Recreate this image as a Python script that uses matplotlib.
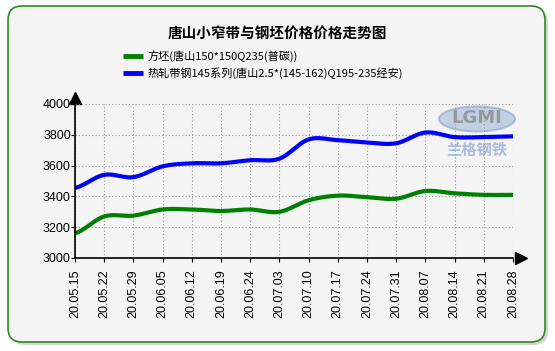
import matplotlib
matplotlib.use("Agg")
import matplotlib.pyplot as plt
from matplotlib.patches import FancyBboxPatch, Ellipse
import numpy as np

dates = ["20.05.15", "20.05.22", "20.05.29", "20.06.05", "20.06.12", "20.06.19",
         "20.06.24", "20.07.03", "20.07.10", "20.07.17", "20.07.24", "20.07.31",
         "20.08.07", "20.08.14", "20.08.21", "20.08.28"]
billet = [3160, 3270, 3275, 3315, 3315, 3305, 3315, 3300, 3375, 3405, 3395, 3385,
          3435, 3420, 3410, 3410]
strip = [3455, 3540, 3525, 3595, 3615, 3615, 3635, 3645, 3770, 3765, 3750, 3745,
         3815, 3785, 3785, 3790]
billet_label = "方坯(唐山150*150Q235(普碳))"
strip_label = "热轧带钢145系列(唐山2.5*(145-162)Q195-235经安)"
title = "唐山小窄带与钢坯价格价格走势图"

CJK = ["Noto Sans CJK SC", "DejaVu Sans"]
LAT = ["Liberation Sans", "Noto Sans CJK SC"]


def smooth(y, n=20):
    # Catmull-Rom curve through the points, only for drawing
    y = np.asarray(y, float)
    p = np.concatenate([[y[0]], y, [y[-1]]])
    xs, ys = [], []
    for i in range(len(y) - 1):
        t = np.linspace(0, 1, n, endpoint=False)
        p0, p1, p2, p3 = p[i], p[i + 1], p[i + 2], p[i + 3]
        seg = 0.5 * (2 * p1 + (-p0 + p2) * t + (2 * p0 - 5 * p1 + 4 * p2 - p3) * t ** 2
                     + (-p0 + 3 * p1 - 3 * p2 + p3) * t ** 3)
        xs.append(i + t)
        ys.append(seg)
    xs.append([len(y) - 1])
    ys.append([y[-1]])
    return np.concatenate(xs), np.concatenate(ys)


fig = plt.figure(figsize=(5.55, 3.51), dpi=100)
fig.patch.set_facecolor("white")

bg = fig.add_axes([0, 0, 1, 1])
bg.set_xlim(0, 555)
bg.set_ylim(351, 0)
bg.axis("off")
shadow = FancyBboxPatch((11, 9), 537, 336, boxstyle="round,pad=0,rounding_size=14",
                        facecolor="#b8b8b8", edgecolor="none", alpha=0.6)
bg.add_patch(shadow)
box = FancyBboxPatch((8, 6), 537, 336, boxstyle="round,pad=0,rounding_size=14",
                     facecolor="#f4f4f4", edgecolor="#2e8b22", linewidth=1.2)
bg.add_patch(box)
bg.text(277, 33, title, ha="center", va="center", fontsize=10.5, fontweight="bold",
        family=CJK)
bg.plot([123, 143], [56, 56], color="#008000", lw=3.5, solid_capstyle="butt")
bg.plot([123, 143], [73, 73], color="#0000ff", lw=3.5, solid_capstyle="butt")
bg.text(147, 56, billet_label, ha="left", va="center", fontsize=8, family=CJK)
bg.text(147, 73, strip_label, ha="left", va="center", fontsize=8, family=CJK)

# watermark
bg.add_patch(Ellipse((477, 119), 76, 25, facecolor="#9bb3d6", edgecolor="#7f9cc8",
                     alpha=0.55, lw=1.5))
bg.text(477, 118, "LGMI", ha="center", va="center", fontsize=13, fontweight="bold",
        color="#8a8a8a", alpha=0.8, family="DejaVu Sans")
bg.text(477, 150, "兰格钢铁", ha="center", va="center", fontsize=11, fontweight="bold",
        color="#a8bde0", family=CJK)

ax = fig.add_axes([75 / 555, (351 - 258) / 351, 438 / 555, 154 / 351])
ax.set_facecolor("none")
x = np.arange(len(dates))
sx, sy = smooth(billet)
ax.plot(sx, sy, color="#008000", lw=3, solid_capstyle="round")
sx, sy = smooth(strip)
ax.plot(sx, sy, color="#0000ff", lw=3, solid_capstyle="round")

ax.set_xlim(0, len(dates) - 1)
ax.set_ylim(3000, 4000)
ax.set_yticks(np.arange(3000, 4001, 200))
ax.set_xticks(x)
ax.set_xticklabels(dates, rotation=90, family=LAT, fontsize=9)
for lab in ax.get_yticklabels():
    lab.set_family(LAT)
    lab.set_fontsize(9)
ax.tick_params(axis="y", length=3, width=0.8, pad=0)
ax.tick_params(axis="x", length=3, width=0.8, pad=5)
ax.grid(True, color="#999999", linestyle=(0, (1, 2)), lw=0.8)
ax.spines["top"].set_visible(False)
ax.spines["right"].set_visible(False)
ax.spines["left"].set_linewidth(1.2)
ax.spines["bottom"].set_linewidth(1.2)

bg.plot([75], [98], marker="^", color="black", markersize=8)
bg.plot([521], [258], marker=">", color="black", markersize=8)

fig.savefig("out.png", dpi=100)
